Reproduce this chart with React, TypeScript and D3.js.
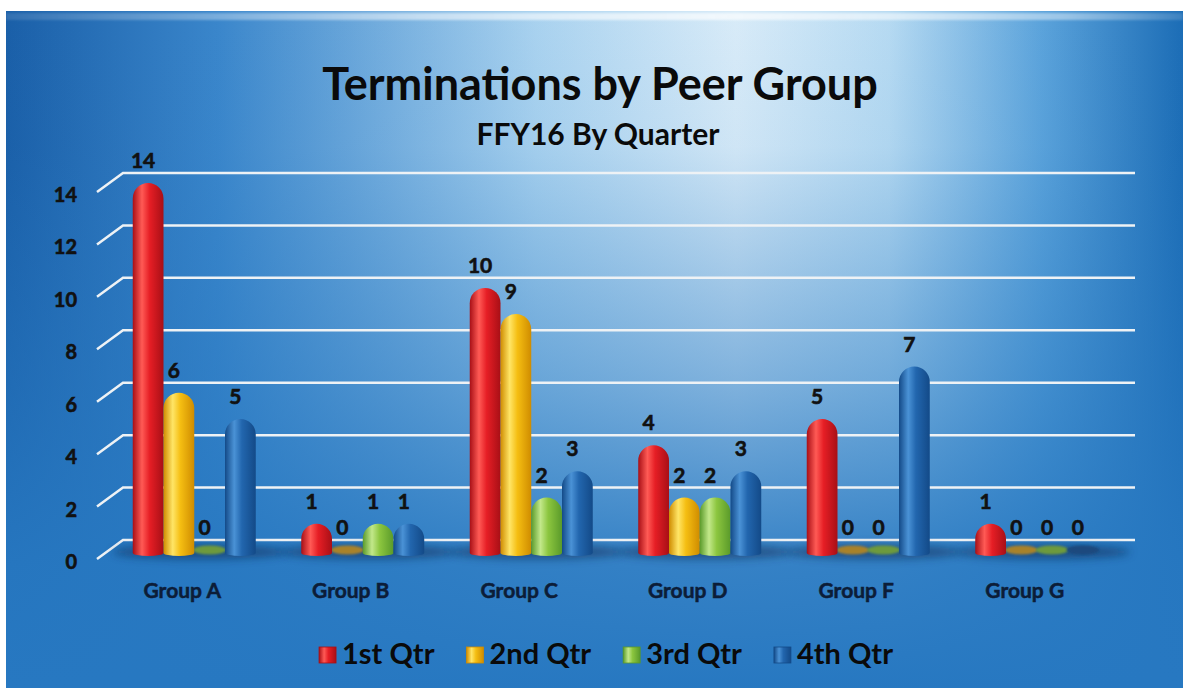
import React, { useRef, useEffect } from 'react';
import * as d3 from 'd3';

const groups = ['Group A', 'Group B', 'Group C', 'Group D', 'Group F', 'Group G'];
const quarters = ['1st Qtr', '2nd Qtr', '3rd Qtr', '4th Qtr'];
const q1 = [14, 1, 10, 4, 5, 1];
const q2 = [6, 0, 9, 2, 0, 0];
const q3 = [0, 1, 2, 2, 0, 0];
const q4 = [5, 1, 3, 3, 7, 0];
const yTicks = [0, 2, 4, 6, 8, 10, 12, 14];

const W = 1183;
const H = 688;
const FONT = 'Lato, "Open Sans", sans-serif';

// base / light / dark / flat(zero) for each quarter
const palette = [
  { base: '#e61e25', light: '#ff5a55', dark: '#a80f16', flat: '#b33a2a' },
  { base: '#f5be12', light: '#ffe566', dark: '#cf8c00', flat: '#a8822c' },
  { base: '#8cc63f', light: '#c2e88a', dark: '#5a9a2a', flat: '#6d9a3c' },
  { base: '#2266ae', light: '#4a92d6', dark: '#134a88', flat: '#1b4a7e' },
];

function App() {
  const svgRef = useRef<SVGSVGElement>(null);

  useEffect(() => {
    const svg = d3.select(svgRef.current);
    svg.selectAll('*').remove();
    const defs = svg.append('defs');

    // background
    const bgH = defs.append('linearGradient').attr('id', 'bgH').attr('x1', 0).attr('x2', 1).attr('y1', 0).attr('y2', 0);
    [[0, '#1a5fa8'], [0.18, '#3a86cb'], [0.45, '#a9d2ef'], [0.62, '#d8ebf8'], [0.75, '#b6daf2'], [0.88, '#5ba3db'], [1, '#1c6db6']]
      .forEach(([o, c]) => bgH.append('stop').attr('offset', o).attr('stop-color', c));
    const bgV = defs.append('linearGradient').attr('id', 'bgV').attr('x1', 0).attr('x2', 0).attr('y1', 0).attr('y2', 1);
    [[0, 0], [0.2, 0.05], [0.55, 0.5], [0.82, 0.92], [1, 1]]
      .forEach(([o, a]) => bgV.append('stop').attr('offset', o).attr('stop-color', '#2778c1').attr('stop-opacity', a));
    const bevel = defs.append('linearGradient').attr('id', 'bevel').attr('x1', 0).attr('x2', 1);
    [[0, 0.15], [0.35, 0.75], [0.6, 0.95], [0.9, 0.6], [1, 0.2]]
      .forEach(([o, a]) => bevel.append('stop').attr('offset', o).attr('stop-color', '#ffffff').attr('stop-opacity', a));

    defs.append('filter').attr('id', 'blur').attr('x', '-20%').attr('y', '-100%').attr('width', '140%').attr('height', '300%')
      .append('feGaussianBlur').attr('stdDeviation', 4);
    defs.append('filter').attr('id', 'soft').attr('x', '-20%').attr('y', '-100%').attr('width', '140%').attr('height', '300%')
      .append('feGaussianBlur').attr('stdDeviation', 1.2);

    palette.forEach((p, i) => {
      const g = defs.append('linearGradient').attr('id', `bar${i}`).attr('x1', 0).attr('x2', 1);
      [[0, p.dark], [0.3, p.light], [0.55, p.base], [1, p.dark]]
        .forEach(([o, c]) => g.append('stop').attr('offset', o).attr('stop-color', c));
    });

    svg.append('rect').attr('width', W).attr('height', H).attr('fill', '#ffffff');
    svg.append('rect').attr('x', 6).attr('y', 11).attr('width', W - 6).attr('height', H - 11).attr('fill', 'url(#bgH)');
    svg.append('rect').attr('x', 6).attr('y', 11).attr('width', W - 6).attr('height', H - 11).attr('fill', 'url(#bgV)');
    svg.append('rect').attr('x', 6).attr('y', 13).attr('width', W - 6).attr('height', 7).attr('fill', 'url(#bevel)').attr('opacity', 0.7)
      .attr('filter', 'url(#soft)');

    // scales
    const x0 = d3.scaleBand().domain(groups).range([110, 1121]).paddingInner(0.27).paddingOuter(0.135);
    const x1 = d3.scaleBand().domain(quarters).range([0, x0.bandwidth()]);
    const y = d3.scaleLinear().domain([0, 14]).range([550, 183]);
    const series = [q1, q2, q3, q4];
    const baseY = y(0) + 3;

    // gridlines on the back wall
    const depthX = 26, depthY = 19, wallLeft = 123, wallRight = 1135;
    svg.append('g').selectAll('path').data(yTicks).join('path')
      .attr('d', (v) => `M${wallLeft - depthX},${y(v) - 10 + depthY} L${wallLeft},${y(v) - 10} L${wallRight},${y(v) - 10}`)
      .attr('fill', 'none').attr('stroke', '#eef2f5').attr('stroke-width', 2.5);

    svg.append('g').selectAll('text').data(yTicks).join('text')
      .attr('x', 77).attr('y', (v) => y(v) + 19)
      .attr('text-anchor', 'end').attr('font-family', FONT).attr('font-weight', 700).attr('font-size', 20)
      .attr('fill', '#111').attr('stroke', '#111').attr('stroke-width', 0.6)
      .text((v) => v);

    // floor shadows
    svg.append('g').selectAll('ellipse').data(groups).join('ellipse')
      .attr('cx', (g) => x0(g)! + x0.bandwidth() / 2 + 6)
      .attr('cy', baseY - 1).attr('rx', x0.bandwidth() / 2 + 26).attr('ry', 7)
      .attr('fill', '#0a2a55').attr('opacity', 0.55).attr('filter', 'url(#blur)');

    const cells = groups.flatMap((g, gi) => quarters.map((q, qi) => ({ g, q, qi, v: series[qi][gi] })));
    const bw = x1.bandwidth();

    // zero values lie flat on the floor
    svg.append('g').selectAll('ellipse').data(cells.filter((d) => d.v === 0)).join('ellipse')
      .attr('cx', (d) => x0(d.g)! + x1(d.q)! + bw / 2)
      .attr('cy', baseY - 3).attr('rx', bw / 2 + 1).attr('ry', 4.5)
      .attr('fill', (d) => palette[d.qi].flat).attr('filter', 'url(#soft)');

    // capsule columns
    svg.append('g').selectAll('path').data(cells.filter((d) => d.v > 0)).join('path')
      .attr('d', (d) => {
        const xl = x0(d.g)! + x1(d.q)!;
        const r = bw / 2;
        const top = y(d.v);
        return `M${xl},${baseY} L${xl},${top + r} A${r},${r} 0 0 1 ${xl + bw},${top + r} L${xl + bw},${baseY} A${r},3 0 0 1 ${xl},${baseY} Z`;
      })
      .attr('fill', (d) => `url(#bar${d.qi})`);

    // data labels
    svg.append('g').selectAll('text').data(cells).join('text')
      .attr('x', (d) => x0(d.g)! + x1(d.q)! + bw / 2 - 5)
      .attr('y', (d) => y(d.v) - 15)
      .attr('text-anchor', 'middle').attr('font-family', FONT).attr('font-weight', 700).attr('font-size', 21)
      .attr('fill', '#111').attr('stroke', '#111').attr('stroke-width', 0.6)
      .text((d) => d.v);

    // category labels
    svg.append('g').selectAll('text').data(groups).join('text')
      .attr('x', (g) => x0(g)! + x0.bandwidth() / 2 - 12).attr('y', 598)
      .attr('text-anchor', 'middle').attr('font-family', FONT).attr('font-weight', 700).attr('font-size', 21)
      .attr('fill', '#0c1d38').attr('stroke', '#0c1d38').attr('stroke-width', 0.5)
      .text((g) => g);

    // titles
    svg.append('text').attr('x', 600).attr('y', 100).attr('text-anchor', 'middle')
      .attr('font-family', FONT).attr('font-weight', 700).attr('font-size', 45).attr('fill', '#0a0a0a')
      .text('Terminations by Peer Group');
    svg.append('text').attr('x', 598).attr('y', 145).attr('text-anchor', 'middle')
      .attr('font-family', FONT).attr('font-weight', 700).attr('font-size', 30).attr('fill', '#0a0a0a')
      .text('FFY16 By Quarter');

    // legend
    const legend = svg.append('g');
    const items = legend.selectAll('g').data(quarters).join('g');
    items.append('rect').attr('width', 17).attr('height', 16).attr('y', -17)
      .attr('fill', (q, i) => `url(#bar${i})`).attr('stroke', (q, i) => palette[i].dark).attr('stroke-width', 0.8);
    items.append('text').attr('x', 23).attr('y', 0)
      .attr('font-family', FONT).attr('font-weight', 700).attr('font-size', 29).attr('fill', '#0a0a0a')
      .text((q) => q);
    let cursor = 0;
    items.each(function () {
      const t = d3.select(this).select('text').node() as SVGTextElement;
      d3.select(this).attr('transform', `translate(${cursor},664)`);
      cursor += 23 + t.getComputedTextLength() + 32;
    });
    const total = cursor - 32;
    legend.attr('transform', `translate(${606 - total / 2},0)`);
  }, []);

  return (
    <div style={{ position: 'absolute', left: 0, top: 0 }}>
      <svg ref={svgRef} width={W} height={H} style={{ display: 'block' }} />
    </div>
  );
}

export default App;
